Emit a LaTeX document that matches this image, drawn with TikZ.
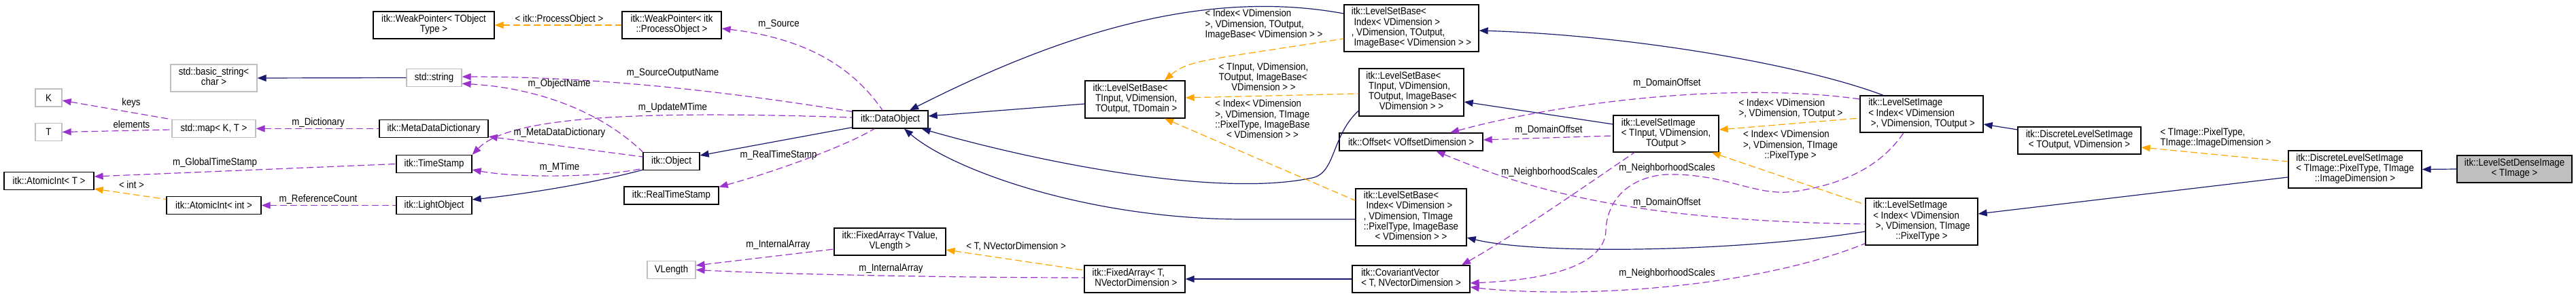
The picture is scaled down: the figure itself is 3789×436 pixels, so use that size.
\documentclass[tikz,border=0pt]{standalone}
\usepackage{fontspec}
\setmainfont{Liberation Sans}[FakeStretch=0.883]
\usetikzlibrary{arrows.meta,calc}
\definecolor{navy}{HTML}{191970}
\definecolor{orch}{HTML}{9A32CD}
\definecolor{orng}{HTML}{FFA500}
\definecolor{grb}{HTML}{BFBFBF}
\newcommand\dfont{\fontsize{15pt}{14.6pt}\selectfont}
\newcommand\Lc[1]{\multicolumn{1}{@{}c@{}}{#1}}
\newcommand\TB[1]{\begin{tabular}{@{}l@{}}#1\end{tabular}}
\tikzset{
  nd/.style={draw=black, line width=1.3pt, fill=white, inner sep=0pt, font=\dfont},
  gnd/.style={nd, draw=grb},
  lab/.style={font=\dfont, inner sep=0pt},
  inh/.style={draw=navy, line width=1.2pt, {Triangle[length=13pt,width=10pt]}-},
  mem/.style={draw=orch, line width=1.2pt, dash pattern=on 10pt off 5pt, {Triangle[length=13pt,width=10pt]}-},
  tpl/.style={draw=orng, line width=1.2pt, dash pattern=on 10pt off 5pt, {Triangle[length=13pt,width=10pt]}-},
}
\begin{document}
\begin{tikzpicture}[x=1pt,y=-1pt]
\useasboundingbox (0,0) rectangle (3789,436);
\fill[white] (0,0) rectangle (3789,436);
% nodes
\node[gnd,minimum width=127pt,minimum height=40pt] (bstr) at (314.5,115) {\TB{std::basic\_string<\\\Lc{char >}}};
\node[gnd,minimum width=39pt,minimum height=26pt] (K) at (71.5,144) {K};
\node[gnd,minimum width=39pt,minimum height=26pt] (T) at (71.5,194.5) {T};
\node[gnd,minimum width=123pt,minimum height=26pt] (map) at (314.5,189.5) {std::map< K, T >};
\node[nd,minimum width=132pt,minimum height=26pt] (aiT) at (72,266.5) {itk::AtomicInt< T >};
\node[nd,minimum width=139pt,minimum height=26pt] (aiI) at (314.5,302.5) {itk::AtomicInt< int >};
\node[nd,minimum width=178pt,minimum height=40pt] (wpT) at (638,37) {\TB{itk::WeakPointer< TObject\\\Lc{Type >}}};
\node[gnd,minimum width=81pt,minimum height=26pt] (str) at (638.5,114.5) {std::string};
\node[nd,minimum width=160pt,minimum height=26pt] (mdd) at (638,189.5) {itk::MetaDataDictionary};
\node[nd,minimum width=111pt,minimum height=26pt] (ts) at (638.5,241.5) {itk::TimeStamp};
\node[nd,minimum width=111pt,minimum height=26pt] (lo) at (638.5,302.5) {itk::LightObject};
\node[nd,minimum width=146pt,minimum height=40pt] (wpP) at (988,37) {\TB{itk::WeakPointer< itk\\\Lc{::ProcessObject >}}};
\node[nd,minimum width=83pt,minimum height=26pt] (obj) at (987.5,237.5) {itk::Object};
\node[nd,minimum width=139pt,minimum height=26pt] (rts) at (987.5,288) {itk::RealTimeStamp};
\node[gnd,minimum width=71pt,minimum height=26pt] (vlen) at (987.5,397.5) {VLength};
\node[nd,minimum width=164pt,minimum height=40pt] (faV) at (1309,356) {\TB{itk::FixedArray< TValue,\\\Lc{VLength >}}};
\node[nd,minimum width=111pt,minimum height=26pt] (dobj) at (1309.5,176) {itk::DataObject};
\node[nd,minimum width=147pt,minimum height=55pt] (lsbTD) at (1669.5,146.5) {\TB{itk::LevelSetBase<\\\ TInput, VDimension,\\\Lc{\ TOutput, TDomain >}}};
\node[nd,minimum width=148pt,minimum height=40pt] (faT) at (1669,411) {\TB{itk::FixedArray< T,\\\Lc{\ NVectorDimension >}}};
\node[nd,minimum width=198pt,minimum height=69pt] (lsbIO) at (2076,41.5) {\TB{itk::LevelSetBase<\\\ Index< VDimension >\\, VDimension, TOutput,\\\Lc{\ ImageBase< VDimension > >}}};
\node[nd,minimum width=154pt,minimum height=70pt] (lsbTI) at (2076,136) {\TB{itk::LevelSetBase<\\\ TInput, VDimension,\\\ TOutput, ImageBase<\\\Lc{VDimension > >}}};
\node[nd,minimum width=211pt,minimum height=26pt] (off) at (2075.5,209) {itk::Offset< VOffsetDimension >};
\node[nd,minimum width=163pt,minimum height=84pt] (lsbIP) at (2075.5,320) {\TB{itk::LevelSetBase<\\\ Index< VDimension >\\, VDimension, TImage\\::PixelType, ImageBase\\\Lc{< VDimension > >}}};
\node[nd,minimum width=173pt,minimum height=40pt] (cov) at (2075.5,411) {\TB{itk::CovariantVector\\\Lc{< T, NVectorDimension >}}};
\node[nd,minimum width=155pt,minimum height=54pt] (lsiT) at (2450.5,197) {\TB{itk::LevelSetImage\\< TInput, VDimension,\\\Lc{TOutput >}}};
\node[nd,minimum width=181pt,minimum height=54pt] (lsiIO) at (2826.5,168) {\TB{itk::LevelSetImage\\< Index< VDimension\\\Lc{\ >, VDimension, TOutput >}}};
\node[nd,minimum width=165pt,minimum height=69pt] (lsiIP) at (2826.5,326.5) {\TB{itk::LevelSetImage\\< Index< VDimension\\\ >, VDimension, TImage\\\Lc{::PixelType >}}};
\node[nd,minimum width=181pt,minimum height=40pt] (dlsiO) at (3058.5,207) {\TB{itk::DiscreteLevelSetImage\\\Lc{< TOutput, VDimension >}}};
\node[nd,minimum width=196pt,minimum height=55pt] (dlsiT) at (3464,249.5) {\TB{itk::DiscreteLevelSetImage\\< TImage::PixelType, TImage\\\Lc{::ImageDimension >}}};
\node[nd,fill=grb,minimum width=169pt,minimum height=40pt] (lsd) at (3698.5,249) {\TB{itk::LevelSetDenseImage\\\Lc{< TImage >}}};
% edges
\draw[inh] (bstr.east) -- (str.west);
\draw[mem] ($(K.east)+(0,4)$) -- (map.north west);
\draw[mem] (T.east) -- ($(map.west)+(0,1.5)$);
\draw[mem] (map.east) -- (mdd.west);
\draw[mem] ($(aiT.east)+(0,-6.5)$) -- (ts.west);
\draw[tpl] ($(aiT.south east)+(0,-2)$) -- ($(aiI.west)+(0,-9)$);
\draw[mem] (aiI.east) -- (lo.west);
\draw[tpl] (wpT.east) -- (wpP.west);
\draw[mem] ($(wpP.east)+(0,5)$) .. controls (1200,58) and (1262,110) .. ($(dobj.north)+(-11.5,0)$);
\draw[mem] ($(str.east)+(0,-1.5)$) .. controls (900,113) and (1100,140) .. ($(dobj.north west)+(0,2)$);
\draw[mem] ($(str.south east)+(0,-5)$) .. controls (800,130) and (890,170) .. (obj.north west);
\draw[mem] (ts.north east) .. controls (750,170) and (950,163) .. ($(dobj.west)+(0,-3)$);
\draw[mem] ($(mdd.south east)+(0,-2)$) -- ($(obj.west)+(0,-6.5)$);
\draw[mem] ($(ts.east)+(0,8.5)$) .. controls (760,262) and (880,262) .. ($(obj.south west)+(0,-3)$);
\draw[inh] ($(lo.east)+(0,-8.5)$) .. controls (780,285) and (880,268) .. ($(obj.south west)+(0,-1)$);
\draw[inh] ($(obj.east)+(0,-8.5)$) -- ($(dobj.south west)+(0,-2)$);
\draw[mem] ($(rts.north east)+(0,1)$) .. controls (1150,250) and (1250,212) .. ($(dobj.south)+(-23.5,0)$);
\draw[inh] ($(dobj.north)+(28.5,0)$) .. controls (1540,60) and (1760,-20) .. ($(lsbIO.west)+(0,-21.5)$);
\draw[inh] ($(dobj.east)+(0,-5)$) -- ($(lsbTD.west)+(0,6.5)$);
\draw[inh] ($(dobj.south east)+(-10,0)$) .. controls (1550,245) and (1800,290) .. (1930,262) .. controls (1965,255) and (1958,200) .. ($(lsbTI.west)+(0,27)$);
\draw[inh] ($(dobj.south)+(20.5,0)$) .. controls (1400,250) and (1600,323) .. (1830,323) -- ($(lsbIP.west)+(0,3)$);
\draw[tpl] ($(lsbTD.north)+(43.5,0)$) .. controls (1740,95) and (1760,90) .. (1833,79) -- ($(lsbIO.west)+(0,15.5)$);
\draw[tpl] ($(lsbTD.east)+(0,-2.5)$) -- ($(lsbTI.west)+(0,2)$);
\draw[tpl] ($(lsbTD.south)+(43.5,0)$) -- ($(lsbIP.north west)+(0,18)$);
\draw[inh] ($(lsbIO.east)+(0,3.5)$) .. controls (2400,52) and (2650,95) .. ($(lsiIO.north)+(-56.5,0)$);
\draw[inh] ($(lsbTI.east)+(0,14)$) -- ($(lsiT.west)+(0,-14)$);
\draw[inh] ($(lsbIP.east)+(0,30)$) .. controls (2260,375) and (2550,372) .. ($(lsiIP.west)+(0,14.5)$);
\draw[mem] ($(off.east)+(0,-3)$) -- ($(lsiT.west)+(0,3)$);
\draw[mem] ($(off.north)+(57.5,0)$) .. controls (2300,150) and (2550,120) .. ($(lsiIO.west)+(0,-22)$);
\draw[mem] ($(off.south)+(37,0)$) .. controls (2250,280) and (2400,325) .. ($(lsiIP.west)+(0,3.5)$);
\draw[mem] ($(cov.north)+(74.5,0)$) .. controls (2230,345) and (2330,275) .. ($(lsiT.south)+(-46.5,0)$);
\draw[mem] ($(cov.east)+(0,6)$) .. controls (2280,412) and (2360,390) .. (2362,340) .. controls (2363,300) and (2390,262) .. (2450,257) .. controls (2540,255) and (2580,290) .. (2640,282) .. controls (2720,270) and (2770,240) .. ($(lsiIO.south)+(-26.5,0)$);
\draw[mem] ($(cov.east)+(0,12)$) .. controls (2320,440) and (2580,425) .. ($(lsiIP.south west)+(0,-3)$);
\draw[tpl] ($(lsiT.east)+(0,-6)$) -- ($(lsiIO.west)+(0,6)$);
\draw[tpl] ($(lsiT.south east)+(-11,0)$) -- ($(lsiIP.north west)+(0,10)$);
\draw[inh] ($(lsiIO.east)+(0,15)$) -- ($(dlsiO.west)+(0,-16)$);
\draw[tpl] ($(dlsiO.east)+(0,10)$) -- ($(dlsiT.west)+(0,-11.5)$);
\draw[inh] ($(lsiIP.east)+(0,-11.5)$) -- ($(dlsiT.west)+(0,11.5)$);
\draw[inh] (dlsiT.east) -- (lsd.west);
\draw[tpl] ($(faV.east)+(0,12)$) -- ($(faT.west)+(0,-13)$);
\draw[mem] ($(vlen.east)+(0,-6.5)$) -- ($(faV.west)+(0,11)$);
\draw[mem] (vlen.east) .. controls (1150,404) and (1400,409) .. ($(faT.west)+(0,-2)$);
\draw[inh] (faT.east) -- (cov.west);
% labels
\node[lab] (lkeys) at (193,152) {keys};
\node[lab] (lelem) at (193.5,183) {elements};
\node[lab] (ldict) at (468,181) {m\_Dictionary};
\node[lab] (lgts) at (316,240) {m\_GlobalTimeStamp};
\node[lab] (lint) at (193.5,272) {< int >};
\node[lab] (lrc) at (468,294) {m\_ReferenceCount};
\node[lab] (lpo) at (822.5,29) {< itk::ProcessObject >};
\node[lab] (lson) at (989.5,108) {m\_SourceOutputName};
\node[lab] (lon) at (822.5,124) {m\_ObjectName};
\node[lab] (lumt) at (989.5,159) {m\_UpdateMTime};
\node[lab] (lmdd) at (823,196) {m\_MetaDataDictionary};
\node[lab] (lmt) at (823,247) {m\_MTime};
\node[lab] (lsrc) at (1145.5,36) {m\_Source};
\node[lab] (lrts) at (1145,229) {m\_RealTimeStamp};
\node[lab] (lia1) at (1144.5,361) {m\_InternalArray};
\node[lab] (lia2) at (1310.5,396) {m\_InternalArray};
\node[lab] (ltnv) at (1494.5,363) {< T, NVectorDimension >};
\node[lab] (la) at (1859,37) {\TB{< Index< VDimension\\>, VDimension, TOutput,\\\Lc{ImageBase< VDimension > >}}};
\node[lab] (lb) at (1858.5,115) {\TB{< TInput, VDimension,\\TOutput, ImageBase<\\\Lc{VDimension > >}}};
\node[lab] (lc) at (1857,177.5) {\TB{< Index< VDimension\\>, VDimension, TImage\\::PixelType, ImageBase\\\Lc{< VDimension > >}}};
\node[lab] (ldo1) at (2278,192) {m\_DomainOffset};
\node[lab] (lns1) at (2279,254) {m\_NeighborhoodScales};
\node[lab] (ldo2) at (2452,123) {m\_DomainOffset};
\node[lab] (lns2) at (2452,248) {m\_NeighborhoodScales};
\node[lab] (ldo3) at (2452,299) {m\_DomainOffset};
\node[lab] (lns3) at (2452,403) {m\_NeighborhoodScales};
\node[lab] (ld) at (2634,161) {\TB{< Index< VDimension\\\Lc{>, VDimension, TOutput >}}};
\node[lab] (le) at (2633.5,215) {\TB{< Index< VDimension\\>, VDimension, TImage\\\Lc{::PixelType >}}};
\node[lab] (lf) at (3259,203.5) {\TB{< TImage::PixelType,\\\Lc{TImage::ImageDimension >}}};
\end{tikzpicture}
\end{document}
